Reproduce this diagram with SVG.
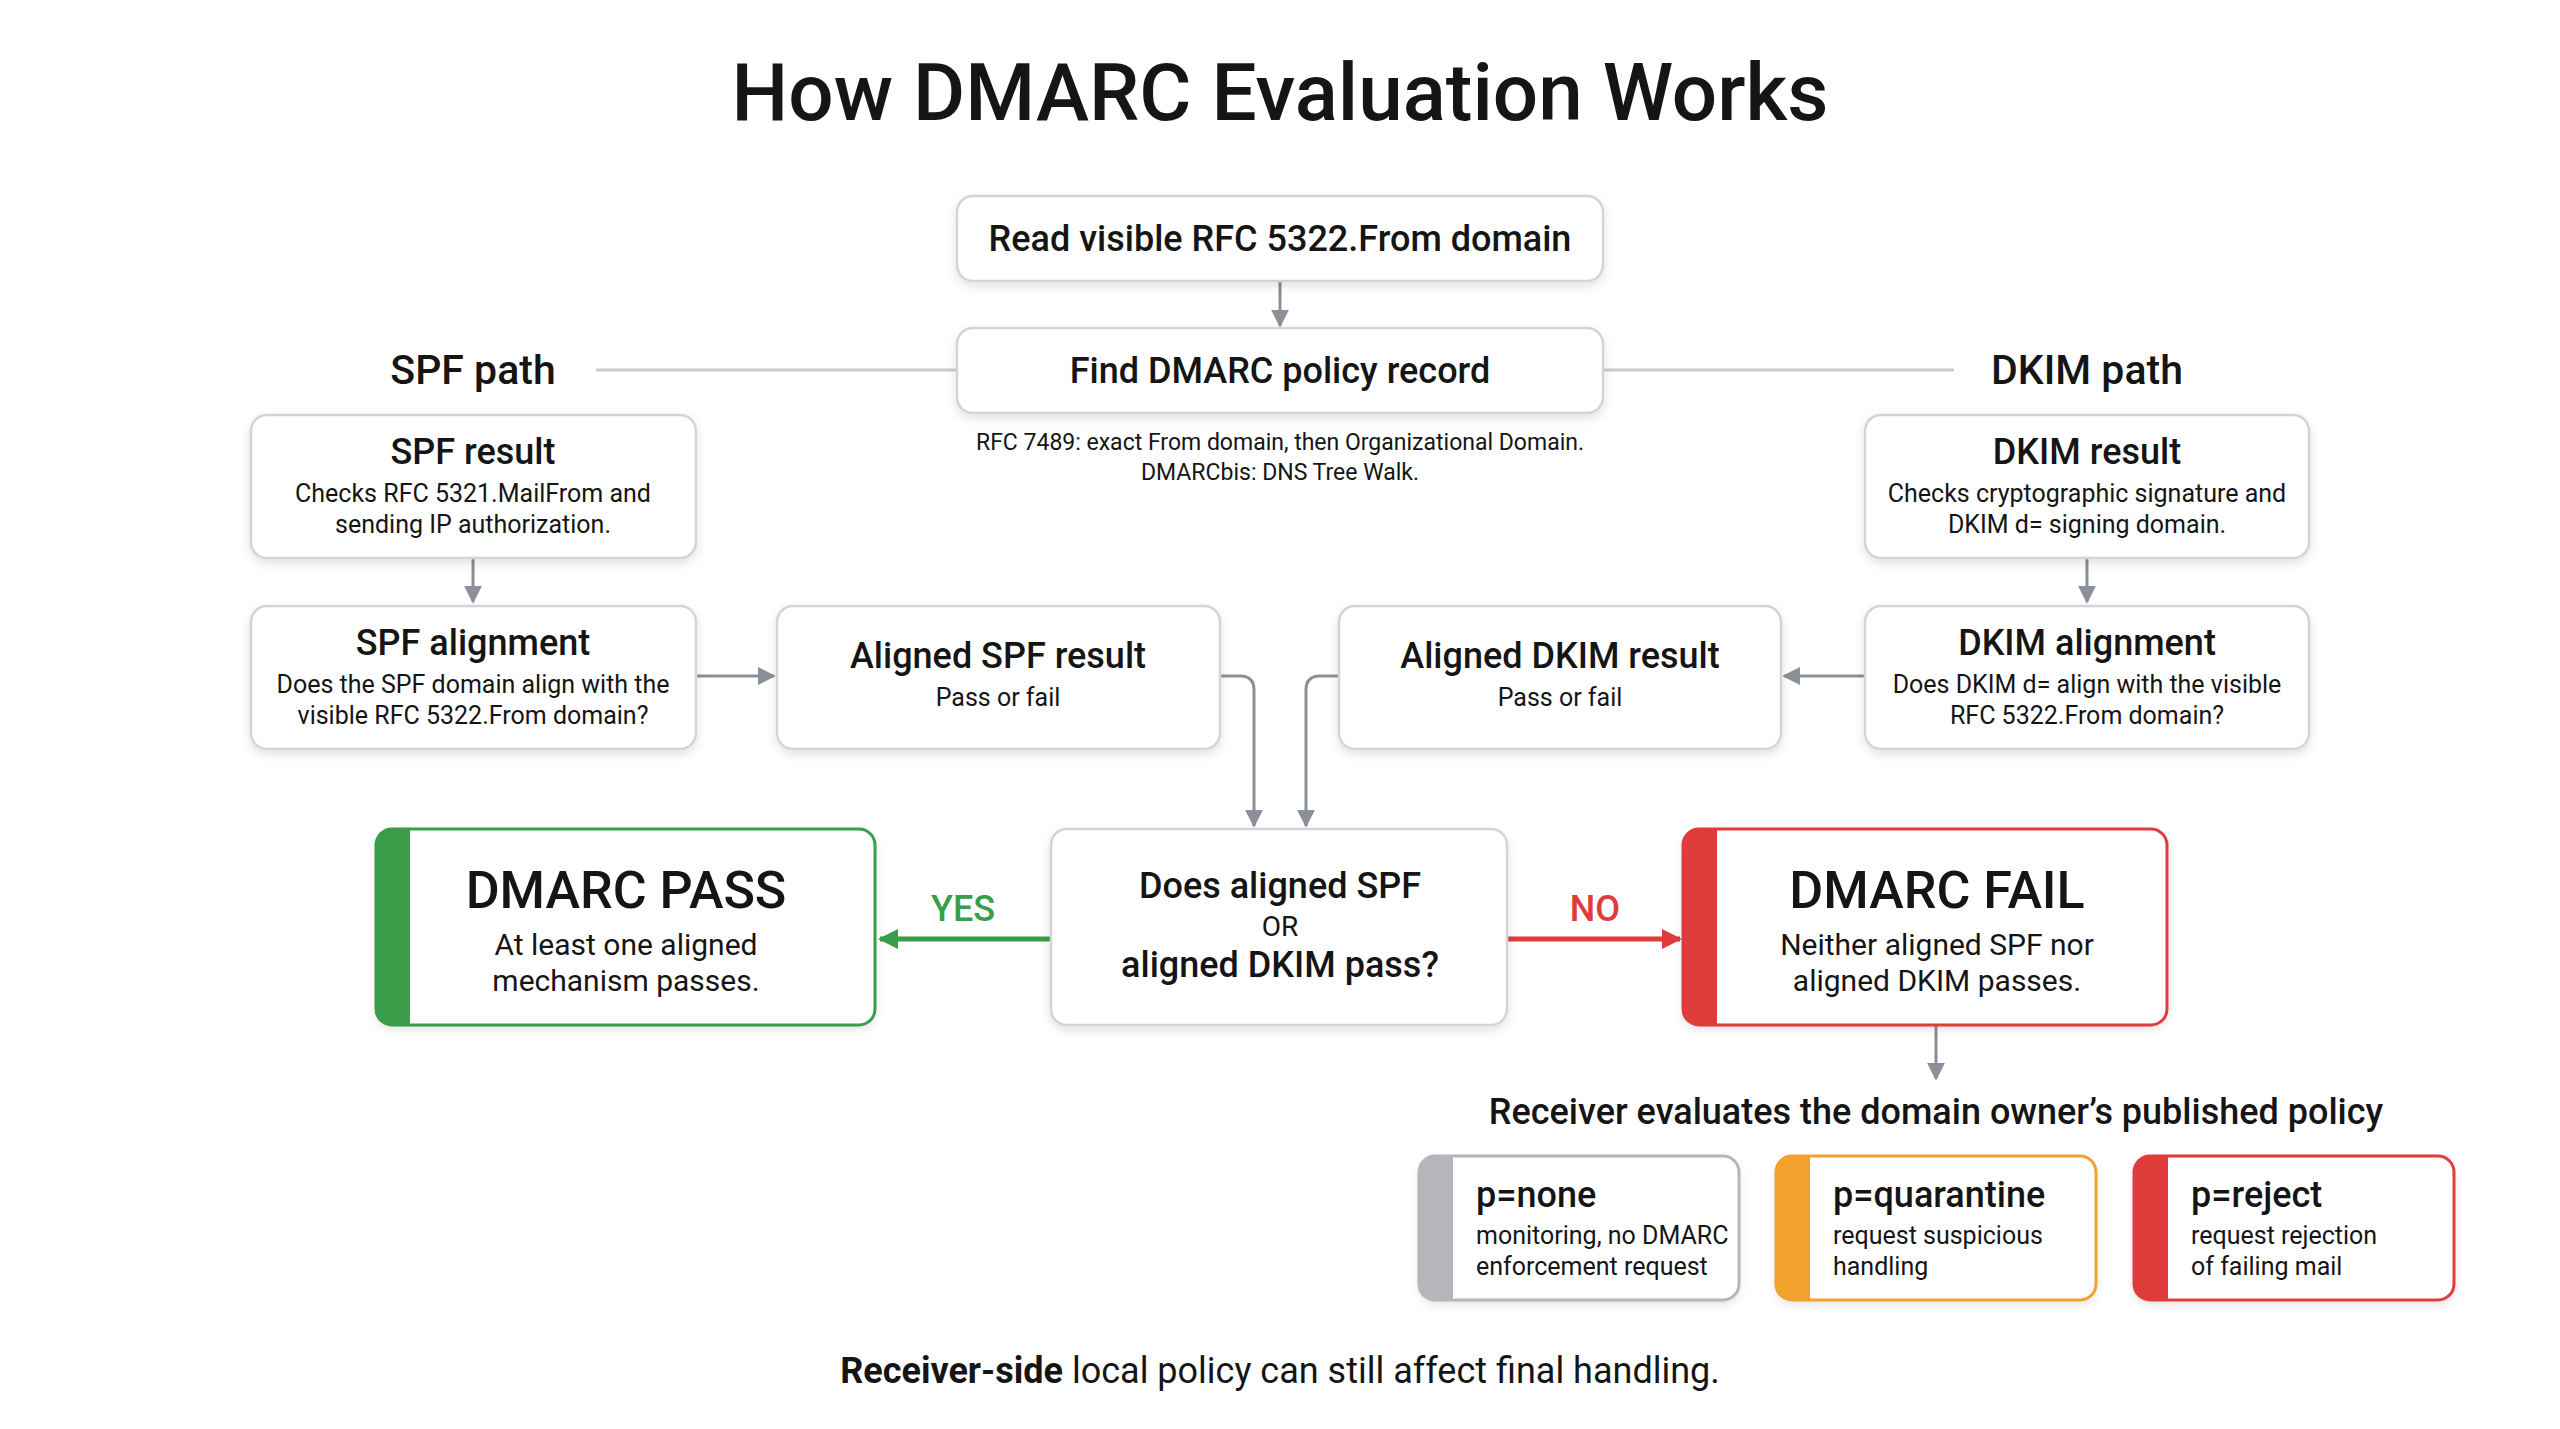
<svg xmlns="http://www.w3.org/2000/svg" width="2560" height="1429" viewBox="0 0 2560 1429">
<style>
text{font-family:Roboto,"Liberation Sans",sans-serif;fill:#151515;text-anchor:middle}
.box{fill:#fff;stroke:#d2d4d8;stroke-width:2.5}
.t{font-size:36px;font-weight:500}
.d{font-size:25px}
.c{stroke:#8a8f98;stroke-width:3;fill:none}
.l{text-anchor:start}
</style>
<defs>
<filter id="sh" x="-10%" y="-10%" width="120%" height="130%"><feDropShadow dx="0" dy="4" stdDeviation="5" flood-color="#000" flood-opacity="0.12"/></filter>
<marker id="ag" viewBox="0 0 10 10" refX="9" refY="5" markerWidth="6" markerHeight="6" orient="auto"><path d="M0,0L10,5L0,10z" fill="#8a8f98"/></marker>
<marker id="agr" viewBox="0 0 10 10" refX="9" refY="5" markerWidth="4" markerHeight="4" orient="auto"><path d="M0,0L10,5L0,10z" fill="#3a9d4a"/></marker>
<marker id="ar" viewBox="0 0 10 10" refX="9" refY="5" markerWidth="4" markerHeight="4" orient="auto"><path d="M0,0L10,5L0,10z" fill="#e03c3c"/></marker>
<clipPath id="cp"><rect x="376" y="829" width="499" height="196" rx="16"/></clipPath>
<clipPath id="cf"><rect x="1683" y="829" width="484" height="196" rx="16"/></clipPath>
<clipPath id="c1"><rect x="1419" y="1156" width="320" height="144" rx="16"/></clipPath>
<clipPath id="c2"><rect x="1776" y="1156" width="320" height="144" rx="16"/></clipPath>
<clipPath id="c3"><rect x="2134" y="1156" width="320" height="144" rx="16"/></clipPath>
</defs>
<rect width="2560" height="1429" fill="#fff"/>
<text x="1280" y="120" style="font-size:80px;font-weight:500">How DMARC Evaluation Works</text>

<g id="connectors">
<path class="c" d="M1280,281V326" marker-end="url(#ag)"/>
<path class="c" d="M596,370H957M1603,370H1954" style="stroke:#c8cbd0"/>
<path class="c" d="M473,558V602" marker-end="url(#ag)"/>
<path class="c" d="M2087,558V602" marker-end="url(#ag)"/>
<path class="c" d="M696,676H774" marker-end="url(#ag)"/>
<path class="c" d="M1865,676H1784" marker-end="url(#ag)"/>
<path class="c" d="M1220,676H1240Q1254,676 1254,690V826" marker-end="url(#ag)"/>
<path class="c" d="M1339,676H1320Q1306,676 1306,690V826" marker-end="url(#ag)"/>
<path d="M1051,939H880" stroke="#3a9d4a" stroke-width="5" marker-end="url(#agr)"/>
<path d="M1507,939H1680" stroke="#e03c3c" stroke-width="5" marker-end="url(#ar)"/>
<path class="c" d="M1936,1025V1079" marker-end="url(#ag)"/>
<text x="963" y="921" style="font-size:36px;font-weight:500;fill:#3a9d4a">YES</text>
<text x="1595" y="921" style="font-size:36px;font-weight:500;fill:#e03c3c">NO</text>
</g>

<g id="read"><rect class="box" filter="url(#sh)" x="957" y="196" width="646" height="85" rx="16"/><text class="t" x="1280" y="251">Read visible RFC 5322.From domain</text></g>
<g id="find"><rect class="box" filter="url(#sh)" x="957" y="328" width="646" height="85" rx="16"/><text class="t" x="1280" y="383">Find DMARC policy record</text>
<text x="1280" y="450" style="font-size:23px">RFC 7489: exact From domain, then Organizational Domain.</text>
<text x="1280" y="480" style="font-size:23px">DMARCbis: DNS Tree Walk.</text></g>
<g id="spfpath"><text x="473" y="384" style="font-size:41px;font-weight:500">SPF path</text></g>
<g id="dkimpath"><text x="2087" y="384" style="font-size:41px;font-weight:500">DKIM path</text></g>

<g id="spfresult"><rect class="box" filter="url(#sh)" x="251" y="415" width="445" height="143" rx="16"/><text class="t" x="473" y="464">SPF result</text><text class="d" x="473" y="502">Checks RFC 5321.MailFrom and</text><text class="d" x="473" y="533">sending IP authorization.</text></g>
<g id="spfalign"><rect class="box" filter="url(#sh)" x="251" y="606" width="445" height="143" rx="16"/><text class="t" x="473" y="655">SPF alignment</text><text class="d" x="473" y="693">Does the SPF domain align with the</text><text class="d" x="473" y="724">visible RFC 5322.From domain?</text></g>
<g id="alignedspf"><rect class="box" filter="url(#sh)" x="777" y="606" width="443" height="143" rx="16"/><text class="t" x="998" y="668">Aligned SPF result</text><text class="d" x="998" y="706">Pass or fail</text></g>
<g id="aligneddkim"><rect class="box" filter="url(#sh)" x="1339" y="606" width="442" height="143" rx="16"/><text class="t" x="1560" y="668">Aligned DKIM result</text><text class="d" x="1560" y="706">Pass or fail</text></g>
<g id="dkimresult"><rect class="box" filter="url(#sh)" x="1865" y="415" width="444" height="143" rx="16"/><text class="t" x="2087" y="464">DKIM result</text><text class="d" x="2087" y="502">Checks cryptographic signature and</text><text class="d" x="2087" y="533">DKIM d= signing domain.</text></g>
<g id="dkimalign"><rect class="box" filter="url(#sh)" x="1865" y="606" width="444" height="143" rx="16"/><text class="t" x="2087" y="655">DKIM alignment</text><text class="d" x="2087" y="693">Does DKIM d= align with the visible</text><text class="d" x="2087" y="724">RFC 5322.From domain?</text></g>

<g id="decision"><rect class="box" filter="url(#sh)" x="1051" y="829" width="456" height="196" rx="16"/><text class="t" x="1280" y="898">Does aligned SPF</text><text x="1280" y="936" style="font-size:28px">OR</text><text class="t" x="1280" y="977">aligned DKIM pass?</text></g>

<g id="pass"><rect x="376" y="829" width="499" height="196" rx="16" fill="#fff" filter="url(#sh)"/><rect x="376" y="829" width="34" height="196" fill="#3a9d4a" clip-path="url(#cp)"/><rect x="376" y="829" width="499" height="196" rx="16" fill="none" stroke="#3a9d4a" stroke-width="3"/>
<text x="626" y="908" style="font-size:52px;font-weight:500">DMARC PASS</text><text x="626" y="955" style="font-size:30px">At least one aligned</text><text x="626" y="991" style="font-size:30px">mechanism passes.</text></g>

<g id="fail"><rect x="1683" y="829" width="484" height="196" rx="16" fill="#fff" filter="url(#sh)"/><rect x="1683" y="829" width="34" height="196" fill="#e03c3c" clip-path="url(#cf)"/><rect x="1683" y="829" width="484" height="196" rx="16" fill="none" stroke="#e03c3c" stroke-width="3"/>
<text x="1937" y="908" style="font-size:52px;font-weight:500">DMARC FAIL</text><text x="1937" y="955" style="font-size:30px">Neither aligned SPF nor</text><text x="1937" y="991" style="font-size:30px">aligned DKIM passes.</text></g>

<g id="receiver"><text x="1936" y="1124" style="font-size:36px;font-weight:500">Receiver evaluates the domain owner’s published policy</text></g>

<g id="pnone"><rect x="1419" y="1156" width="320" height="144" rx="16" fill="#fff" filter="url(#sh)"/><rect x="1419" y="1156" width="34" height="144" fill="#b4b6ba" clip-path="url(#c1)"/><rect x="1419" y="1156" width="320" height="144" rx="16" fill="none" stroke="#b4b6ba" stroke-width="3"/>
<text class="t l" x="1476" y="1207">p=none</text><text class="d l" x="1476" y="1244">monitoring, no DMARC</text><text class="d l" x="1476" y="1275">enforcement request</text></g>
<g id="pquar"><rect x="1776" y="1156" width="320" height="144" rx="16" fill="#fff" filter="url(#sh)"/><rect x="1776" y="1156" width="34" height="144" fill="#f2a22c" clip-path="url(#c2)"/><rect x="1776" y="1156" width="320" height="144" rx="16" fill="none" stroke="#f2a22c" stroke-width="3"/>
<text class="t l" x="1833" y="1207">p=quarantine</text><text class="d l" x="1833" y="1244">request suspicious</text><text class="d l" x="1833" y="1275">handling</text></g>
<g id="preject"><rect x="2134" y="1156" width="320" height="144" rx="16" fill="#fff" filter="url(#sh)"/><rect x="2134" y="1156" width="34" height="144" fill="#e03c3c" clip-path="url(#c3)"/><rect x="2134" y="1156" width="320" height="144" rx="16" fill="none" stroke="#e03c3c" stroke-width="3"/>
<text class="t l" x="2191" y="1207">p=reject</text><text class="d l" x="2191" y="1244">request rejection</text><text class="d l" x="2191" y="1275">of failing mail</text></g>

<g id="footer"><text x="1280" y="1383" style="font-size:36px"><tspan font-weight="700">Receiver-side</tspan> local policy can still affect final handling.</text></g>
</svg>
